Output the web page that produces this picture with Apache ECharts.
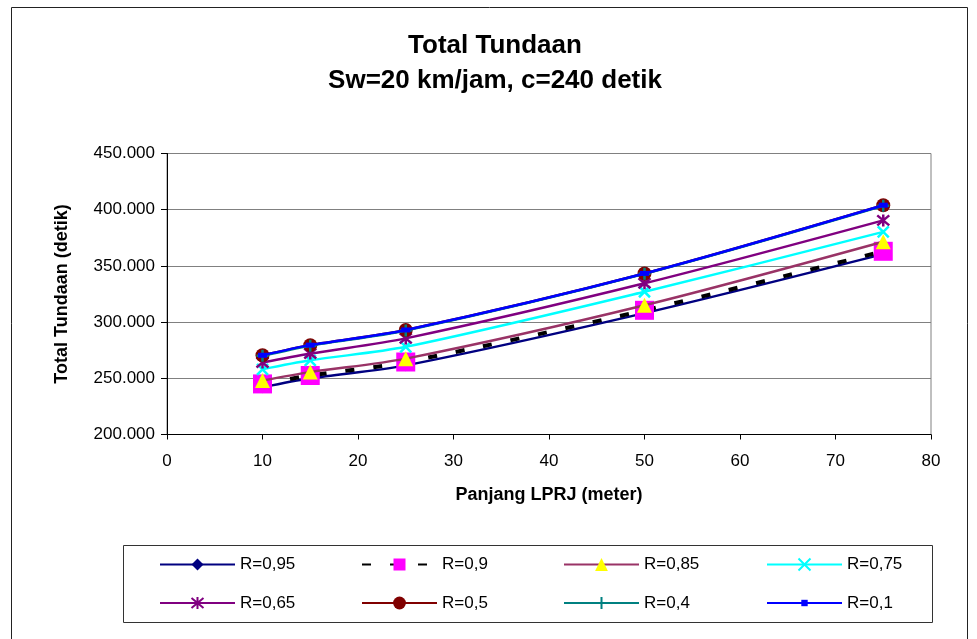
<!DOCTYPE html>
<html>
<head>
<meta charset="utf-8">
<script src="https://cdn.jsdelivr.net/npm/echarts@6/dist/echarts.min.js"></script>
<style>
html,body{margin:0;padding:0;background:#fff;}
#chart{width:977px;height:639px;}
</style>
</head>
<body>
<div id="chart"></div>
<script>
// ---- data ----
var xValues = [10, 15, 25, 50, 75];
var seriesNames = ['R=0,95', 'R=0,9', 'R=0,85', 'R=0,75', 'R=0,65', 'R=0,5', 'R=0,4', 'R=0,1'];
var r095 = [242000, 250000, 261500, 308000, 360500];
var r090 = [245000, 252500, 264500, 310500, 363000];
var r085 = [248000, 255500, 267500, 315000, 371500];
var r075 = [258000, 266000, 278000, 327000, 380300];
var r065 = [264000, 272000, 285500, 334500, 390500];
var r050 = [270500, 279500, 293000, 343300, 404000];
var r040 = [270000, 279000, 292500, 343000, 403500];
var r010 = [270500, 279500, 293000, 343300, 404000];
var yTicks = [200000, 250000, 300000, 350000, 400000, 450000];
var xTicks = [0, 10, 20, 30, 40, 50, 60, 70, 80];

var FONT = '"Liberation Sans", Arial, sans-serif';
var valuesList = [r095, r090, r085, r075, r065, r050, r040, r010];

var X_PATH = 'path://M0,0L10,10M10,0L0,10';
var STAR_PATH = 'path://M0,0L10,10M10,0L0,10M5,-1L5,11';
var PLUS_PATH = 'path://M5,0L5,10M0,5L10,5';

var styles = [
  {line: {color: '#000080', width: 2.5}, symbol: 'diamond', size: 12, legendH: 15, item: {color: '#000080'}},
  {line: {color: '#000000', width: 4, type: [9, 19]}, symbol: 'rect', size: 19, legendH: 15, item: {color: '#FF00FF'}},
  {line: {color: '#993366', width: 2.5}, symbol: 'triangle', size: 15, legendH: 16, item: {color: '#FFFF00'}},
  {line: {color: '#00FFFF', width: 2.5}, symbol: X_PATH, size: 11, legendH: 15, item: {color: 'none', borderColor: '#00FFFF', borderWidth: 2.5}},
  {line: {color: '#800080', width: 2.5}, symbol: STAR_PATH, size: 12, legendH: 15, item: {color: 'none', borderColor: '#800080', borderWidth: 2.5}},
  {line: {color: '#800000', width: 2.5}, symbol: 'circle', size: 14, legendH: 16, item: {color: '#800000'}},
  {line: {color: '#008080', width: 2.5}, symbol: PLUS_PATH, size: 12, legendH: 15, item: {color: 'none', borderColor: '#008080', borderWidth: 2.5}},
  {line: {color: '#0000FF', width: 2.5}, symbol: 'rect', size: [9, 5], legendH: 8, item: {color: '#0000FF'}}
];

function fmt(v) { return String(v).replace(/\B(?=(\d{3})+(?!\d))/g, '.'); }

var series = seriesNames.map(function (name, i) {
  var st = styles[i];
  return {
    name: name,
    type: 'line',
    smooth: 0.3,
    data: xValues.map(function (x, j) { return [x, valuesList[i][j]]; }),
    symbol: st.symbol,
    symbolSize: st.size,
    showAllSymbol: true,
    lineStyle: st.line,
    itemStyle: st.item,
    emphasis: {disabled: true},
    z: 2 + i,
    animation: false
  };
});

var colX = [159, 361, 563, 766];
var rowTop = [556, 594.5];
var legends = seriesNames.map(function (name, i) {
  return {
    data: [name],
    left: colX[i % 4],
    top: rowTop[Math.floor(i / 4)],
    padding: 0,
    itemWidth: 75,
    itemHeight: styles[i].legendH,
    itemGap: 0,
    selectedMode: false,
    textStyle: {fontFamily: FONT, fontSize: 17, color: '#000'}
  };
});

var chart = echarts.init(document.getElementById('chart'), null, {renderer: 'canvas'});
chart.setOption({
  animation: false,
  backgroundColor: '#fff',
  title: {
    text: 'Total Tundaan\nSw=20 km/jam, c=240 detik',
    left: 490,
    textAlign: 'center',
    top: 23,
    textStyle: {fontFamily: FONT, fontSize: 26, fontWeight: 'bold', color: '#000', lineHeight: 35}
  },
  legend: legends,
  graphic: [
    {type: 'rect', shape: {x: 11.5, y: 7.5, width: 956, height: 660}, style: {fill: 'none', stroke: '#222', lineWidth: 1}, silent: true, z: -1},
    {type: 'rect', shape: {x: 123.5, y: 545.5, width: 809, height: 77}, style: {fill: 'none', stroke: '#333', lineWidth: 1}, silent: true, z: -1}
  ],
  grid: {left: 167, top: 153.5, width: 764, height: 281, show: true, borderColor: '#808080', borderWidth: 1, containLabel: false},
  xAxis: {
    type: 'value',
    min: xTicks[0], max: xTicks[xTicks.length - 1], interval: 10,
    name: 'Panjang LPRJ (meter)', nameLocation: 'middle', nameGap: 52,
    nameTextStyle: {fontFamily: FONT, fontSize: 18, fontWeight: 'bold', color: '#000'},
    axisLine: {show: true, onZero: false, lineStyle: {color: '#000', width: 1}},
    axisTick: {show: true, inside: false, length: 5, lineStyle: {color: '#000'}},
    axisLabel: {fontFamily: FONT, fontSize: 17, color: '#000', margin: 18},
    splitLine: {show: false}
  },
  yAxis: {
    type: 'value',
    min: yTicks[0], max: yTicks[yTicks.length - 1], interval: 50000,
    name: 'Total Tundaan (detik)', nameLocation: 'middle', nameGap: 96,
    nameTextStyle: {fontFamily: FONT, fontSize: 18, fontWeight: 'bold', color: '#000'},
    axisLine: {show: true, onZero: false, lineStyle: {color: '#000', width: 1}},
    axisTick: {show: true, inside: false, length: 6, lineStyle: {color: '#000'}},
    axisLabel: {fontFamily: FONT, fontSize: 17, color: '#000', margin: 12, formatter: fmt},
    splitLine: {show: true, lineStyle: {color: '#808080', width: 1}}
  },
  series: series
});
</script>
</body>
</html>
